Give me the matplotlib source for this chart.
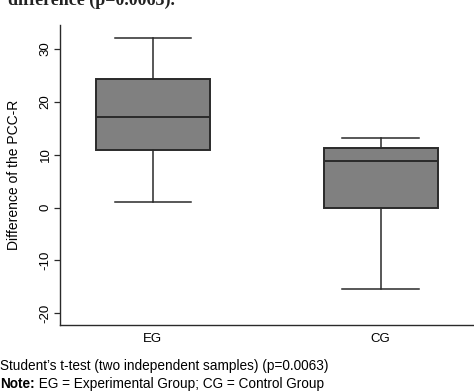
import matplotlib
matplotlib.use("Agg")
import matplotlib.pyplot as plt

groups = ["EG", "CG"]
whisker_low = [1.1, -15.4]
q1 = [10.9, -0.1]
median = [17.1, 8.8]
q3 = [24.2, 11.2]
whisker_high = [32.1, 13.2]
yticks = [-20, -10, 0, 10, 20, 30]

plt.rcParams['font.family'] = ['Liberation Sans', 'DejaVu Sans']

fig = plt.figure(figsize=(4.74, 3.92), dpi=100)
ax = fig.add_axes([60/474, 1-325/392, 1-60/474, 300/392])

stats = []
for i, g in enumerate(groups):
    stats.append(dict(label=g, whislo=whisker_low[i], q1=q1[i], med=median[i],
                      q3=q3[i], whishi=whisker_high[i], fliers=[]))

ax.bxp(stats, positions=[1, 2], widths=0.5, patch_artist=True, showfliers=False,
       boxprops=dict(facecolor='#808080', edgecolor='#2a2a2a', linewidth=1.4),
       medianprops=dict(color='#2a2a2a', linewidth=1.4),
       whiskerprops=dict(color='#2a2a2a', linewidth=1.1),
       capprops=dict(color='#2a2a2a', linewidth=1.1),
       capwidths=0.335)

ax.set_xlim(0.593, 2.41)
ax.set_ylim(-22.2, 34.5)
ax.set_yticks(yticks)
ax.set_yticklabels([str(t) for t in yticks], rotation=90, va='center', fontsize=9.5)
ax.tick_params(axis='y', length=4, width=0.9, color='#2a2a2a', pad=2)
ax.tick_params(axis='x', length=0, labelsize=9.5, pad=6)
for s in ['top', 'right']:
    ax.spines[s].set_visible(False)
for s in ['left', 'bottom']:
    ax.spines[s].set_color('#2a2a2a')
    ax.spines[s].set_linewidth(1.0)

fig.text(14/474, 1-175/392, "Difference of the PCC-R", rotation=90, ha='center', va='center', fontsize=10)

fig.text(0.0, 1-366/392, "Student\u2019s t-test (two independent samples) (p=0.0063)", ha='left', va='center', fontsize=9.8)
note_bold = fig.text(0.0, 1-384/392, "Note:", ha='left', va='center', fontsize=9.8, fontweight='bold')
fig.canvas.draw()
bb = note_bold.get_window_extent(renderer=fig.canvas.get_renderer())
x_after = bb.x1 / fig.bbox.width
fig.text(x_after, 1-384/392, " EG = Experimental Group; CG = Control Group", ha='left', va='center', fontsize=9.8)

fig.text(175/474, 1-5/392, "difference (p=0.0063).", ha='right', va='baseline',
         fontsize=13, fontweight='bold', family=['Liberation Serif', 'DejaVu Serif'], color='#222222')

fig.savefig("out.png", dpi=100)
